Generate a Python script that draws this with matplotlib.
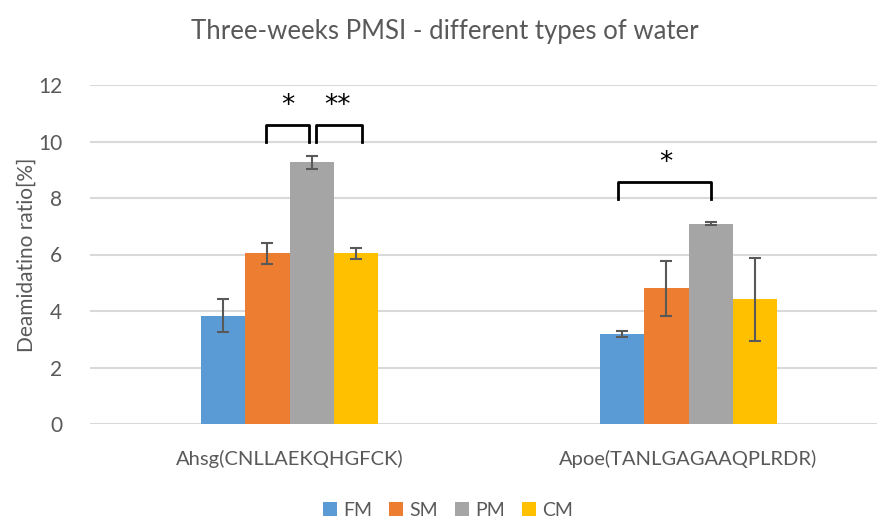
import matplotlib.pyplot as plt
import numpy as np

# data
groups = ['Ahsg(CNLLAEKQHGFCK)', 'Apoe(TANLGAGAAQPLRDR)']
series = ['FM', 'SM', 'PM', 'CM']
fm = [3.84, 3.19]
sm = [6.04, 4.80]
pm = [9.26, 7.09]
cm = [6.04, 4.41]
fm_err = [0.60, 0.10]
sm_err = [0.37, 0.96]
pm_err = [0.24, 0.05]
cm_err = [0.20, 1.48]

colors = ['#5B9BD5', '#ED7D31', '#A5A5A5', '#FFC000']
txt = '#595959'

plt.rcParams['font.family'] = ['Lato', 'DejaVu Sans']

fig = plt.figure(figsize=(8.77, 5.17), dpi=100)
ax = fig.add_axes([90/877, 1-424/517, 798/877, 339/517])

x = np.arange(len(groups))
w = 0.1115
vals = [fm, sm, pm, cm]
errs = [fm_err, sm_err, pm_err, cm_err]
for i in range(4):
    ax.bar(x + (i-1.5)*w, vals[i], w, color=colors[i], label=series[i], zorder=2)
    ax.errorbar(x + (i-1.5)*w, vals[i], yerr=errs[i], fmt='none', ecolor='#595959',
                elinewidth=1.5, capsize=4, capthick=1.5, zorder=3)

# significance brackets
def bracket(x1, x2, y_low, y_high, label, xs):
    ax.plot([x1, x1, x2, x2], [y_low, y_high, y_high, y_low], color='black', lw=2, zorder=4, clip_on=False)
    ax.text(xs, y_high + 0.2, label, ha='center', va='bottom', fontsize=19,
            color='black', family='DejaVu Sans')

bracket(-0.059, 0.049, 10.0, 10.58, '*', -0.005)
bracket(0.066, 0.182, 10.0, 10.58, '**', 0.12)
bracket(0.823, 1.057, 7.98, 8.57, '*', 0.944)

ax.set_xlim(-0.5, 1.5)
ax.set_ylim(0, 12)
ax.set_yticks(range(0, 13, 2))
ax.set_xticks(x)
ax.set_xticklabels(groups)
ax.tick_params(axis='both', length=0, colors=txt)
ax.tick_params(axis='x', pad=19, labelsize=14.5)
ax.tick_params(axis='y', pad=20, labelsize=15)
for s in ax.spines.values():
    s.set_visible(False)
ax.grid(axis='y', color='#D9D9D9', lw=1.5, zorder=0)
ax.set_axisbelow(True)
ax.set_ylabel('Deamidatino ratio[%]', color=txt, fontsize=15, labelpad=1)

fig.text(445/877, 1-31/517, 'Three-weeks PMSI - different types of water', ha='center', va='center',
         fontsize=18.5, color=txt)

fig.legend(loc='center', bbox_to_anchor=(448/877, 1-510/517), ncol=4, frameon=False,
           fontsize=14, handlelength=0.72, handleheight=0.72, handletextpad=0.3, columnspacing=0.9,
           labelcolor=txt)

fig.savefig('out.png', dpi=100)
